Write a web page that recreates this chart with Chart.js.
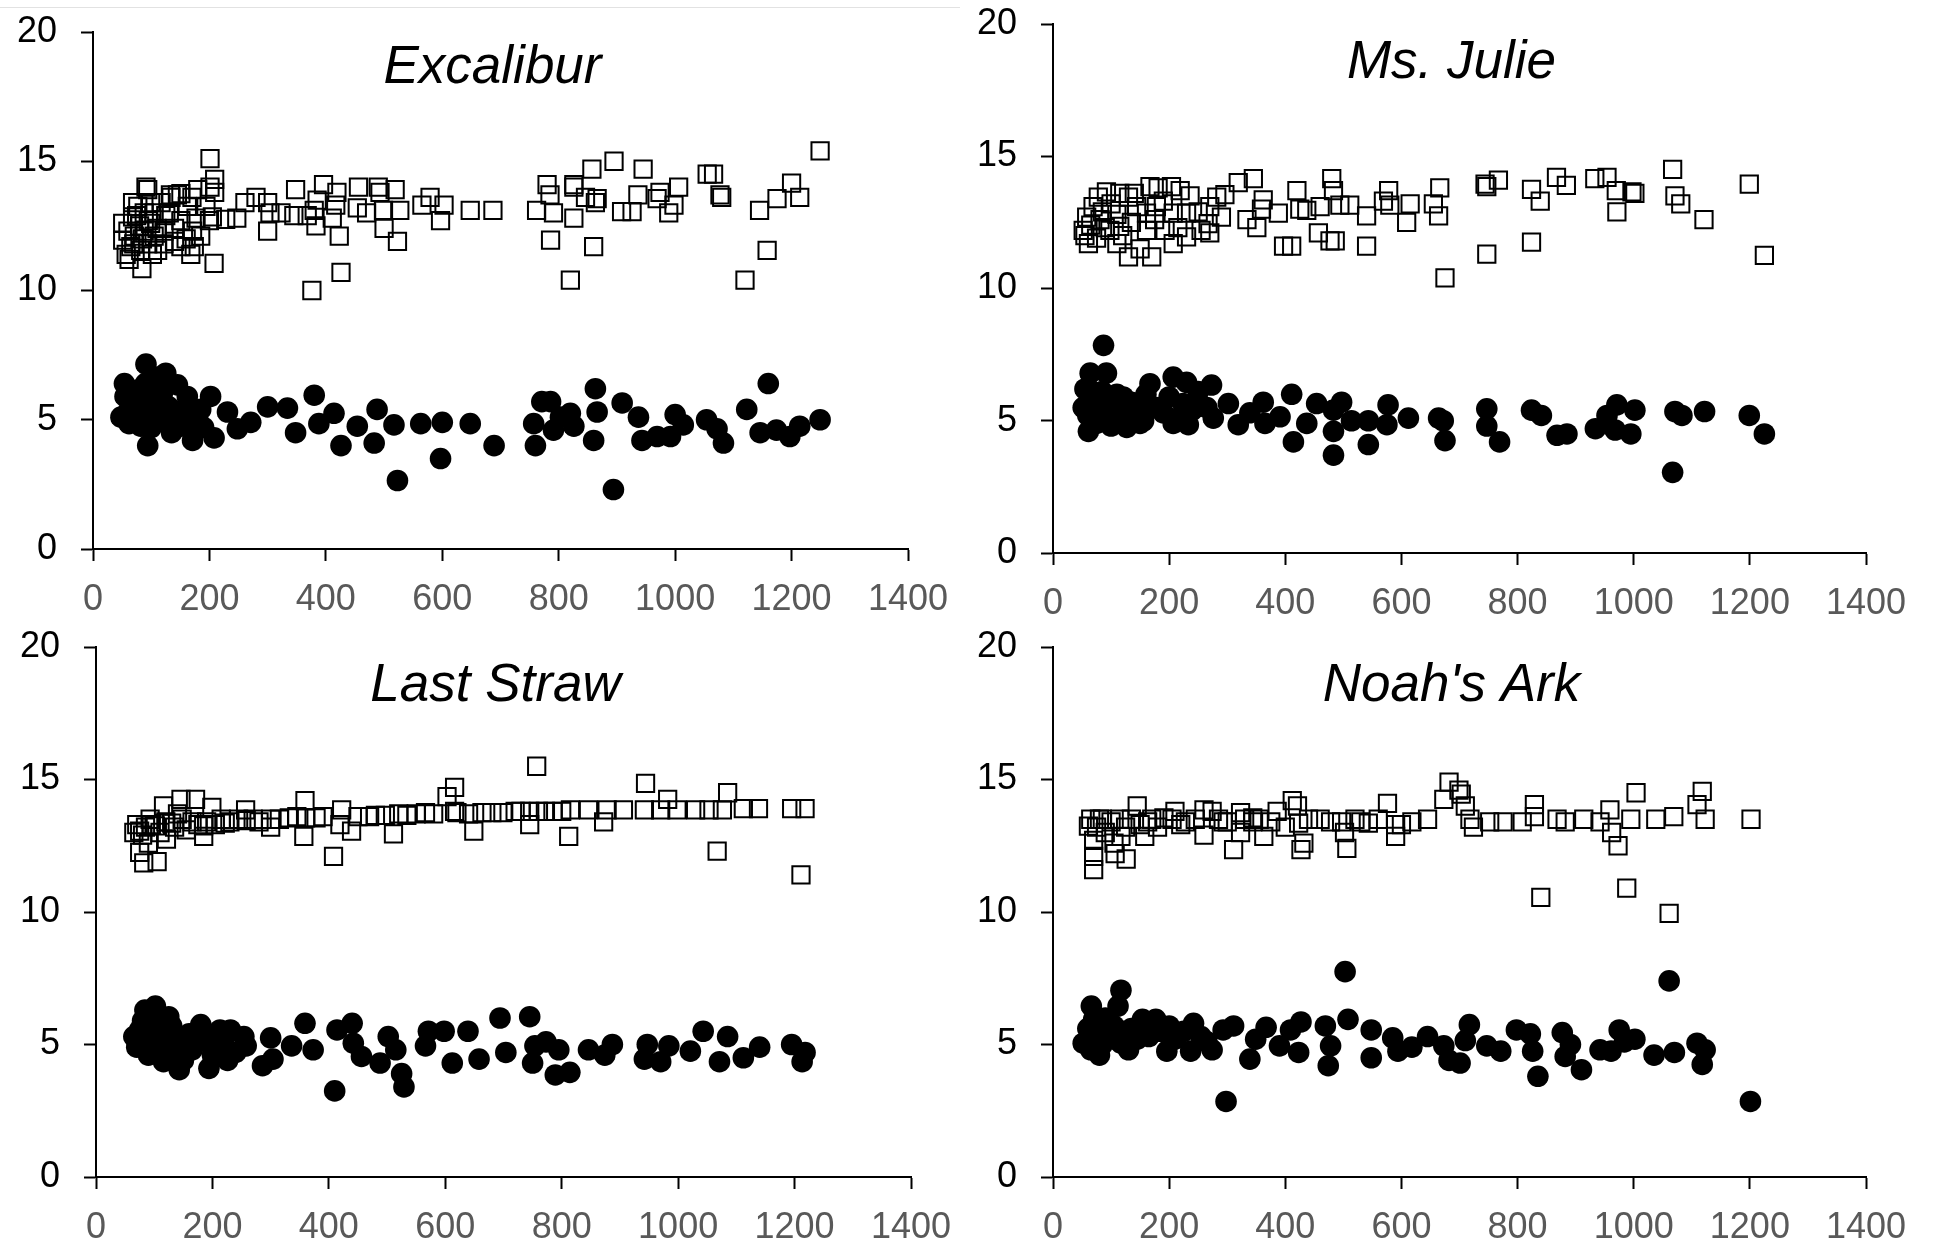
<!DOCTYPE html>
<html>
<head>
<meta charset="utf-8">
<script src="https://cdn.jsdelivr.net/npm/chart.js@4.4.1/dist/chart.umd.min.js"></script>
<style>
  body { margin: 0; background: #fff; width: 1933px; height: 1247px; overflow: hidden; position: relative; }
  canvas { position: absolute; }
  .topline { position: absolute; left: 0; top: 7px; width: 960px; height: 1px; background: #e2e2e2; }
</style>
</head>
<body>
<div class="topline"></div>
<canvas id="c1" width="968" height="637" style="left:0px;top:-18px"></canvas>
<canvas id="c2" width="966" height="649" style="left:960px;top:-26px"></canvas>
<canvas id="c3" width="968" height="650" style="left:3px;top:597px"></canvas>
<canvas id="c4" width="966" height="650" style="left:960px;top:597px"></canvas>
<script>
// panel titles and axis ticks
const titles = ["Excalibur", "Ms. Julie", "Last Straw", "Noah's Ark"];
const xTicks = [0, 200, 400, 600, 800, 1000, 1200, 1400];
const yTicks = [0, 5, 10, 15, 20];

// Excalibur
const excaliburSquares = [
  [201,15.1],[209,14.3],[91,14.0],[201,14.0],[94,13.9],[133,13.7],[145,13.7],[170,13.6],[68,13.4],[209,13.8],
  [348,13.9],[396,14.1],[419,13.8],[456,14.0],[490,14.0],[519,13.9],[493,13.8],[280,13.6],[261,13.4],[300,13.4],
  [385,13.5],[417,13.3],[579,13.6],[603,13.3],[565,13.3],[648,13.1],[687,13.1],[499,13.1],[527,13.1],[454,13.2],
  [470,13.0],[304,13.0],[323,13.0],[345,12.9],[368,12.9],[380,13.1],[247,12.8],[228,12.75],[205,12.85],[300,12.3],
  [383,12.5],[411,12.8],[423,12.1],[500,12.4],[523,11.9],[597,12.7],[208,11.05],[426,10.7],[376,10.0],[84,10.85],
  [786,11.95],[762,13.1],[780,14.1],[785,13.7],[791,13.0],[820,10.4],[826,14.1],
  [57,11.4],[62,11.2],[65,11.7],[71,12.1],[60,12.3],[68,12.85],[77,13.25],[88,13.0],[99,12.6],[105,12.1],
  [94,11.8],[82,11.55],[111,11.55],[122,12.3],[131,13.0],[140,11.9],[151,12.7],[162,13.25],[171,12.3],[174,11.7],
  [168,11.4],[151,11.7],[122,11.8],[134,13.6],[117,13.4],[99,13.4],[80,12.5],[51,11.95],[51,12.6],[151,13.75],
  [180,13.9],[194,13.25],[200,12.7],[177,12.8],[88,12.3],[102,11.4],
  [70,11.8],[75,12.9],[85,12.0],[95,12.7],[105,13.0],[110,12.4],[125,12.9],[140,12.4],[160,12.0],[185,12.1],
  [826,14.0],[826,12.8],[857,14.7],[895,15.0],[860,11.7],[846,13.6],[863,13.4],[866,13.55],[908,13.05],[926,13.05],
  [936,13.7],[945,14.7],[969,13.55],[989,13.0],[998,13.3],[1006,14.0],[974,13.8],[1055,14.5],[1066,14.5],[1080,13.6],
  [1077,13.7],[1145,13.1],[1158,11.55],[1120,10.4],[1175,13.55],[1200,14.15],[1214,13.6],[1249,15.4]
];
const excaliburCircles = [
  [54,6.4],[91,7.15],[125,6.8],[145,6.35],[111,6.15],[162,5.9],[202,5.9],[65,5.5],[94,5.1],[62,4.85],
  [94,4.0],[128,4.85],[171,4.2],[208,4.3],[231,5.3],[180,5.0],[248,4.65],[271,4.9],[300,5.5],[334,5.45],
  [348,4.5],[380,5.95],[388,4.85],[414,5.25],[426,4.0],[454,4.75],[488,5.4],[483,4.1],[517,4.8],[523,2.65],
  [563,4.85],[600,4.9],[597,3.5],[648,4.85],[689,4.0],[757,4.85],[771,5.7],[786,5.7],[760,4.0],[791,4.6],
  [820,5.25],[826,4.75],[48,5.1],[82,4.75],[105,5.5],[122,5.65],[140,5.25],[151,4.75],[77,6.15],[111,6.65],
  [55,5.9],[60,5.3],[70,6.0],[75,5.4],[85,5.7],[90,6.4],[100,5.9],[100,4.7],[115,5.2],[120,6.1],
  [130,5.5],[135,4.5],[150,5.2],[160,5.5],[165,4.8],[185,5.4],[190,4.7],
  [803,5.1],[863,6.2],[866,5.3],[860,4.2],[894,2.3],[909,5.65],[937,5.1],[943,4.2],[969,4.35],[992,4.35],
  [1000,5.2],[1014,4.8],[1054,5.0],[1072,4.65],[1083,4.1],[1123,5.4],[1146,4.5],[1160,6.4],[1174,4.6],[1197,4.35],
  [1214,4.75],[1249,5.0]
];

// Ms. Julie
const julieSquares = [
  [58,12.7],[52,12.2],[61,11.7],[78,13.45],[92,13.65],[115,13.6],[130,13.45],[69,13.1],[81,12.6],[98,12.2],
  [110,11.7],[130,11.2],[115,12.35],[167,13.85],[181,13.8],[204,13.85],[219,13.7],[236,13.5],[170,11.2],[161,12.2],
  [161,12.85],[193,12.2],[207,12.85],[207,11.7],[230,11.95],[230,12.85],[144,13.1],[178,13.1],[270,13.1],[282,13.45],
  [296,13.55],[270,12.1],[267,12.45],[290,12.7],[319,14.0],[345,14.15],[362,13.35],[359,13.0],[334,12.6],[351,12.3],
  [388,12.85],[397,11.6],[411,11.6],[420,13.7],[425,13.0],[437,12.95],[457,12.1],[477,11.8],[486,11.8],[480,14.15],
  [483,13.7],[460,13.1],[494,13.15],[511,13.15],[540,12.75],[540,11.6],[569,13.3],[578,13.7],[580,13.15],[609,12.5],
  [615,13.2],[655,13.2],[666,13.8],[664,12.75],[675,10.4],[744,13.95],[747,11.3],
  [55,12.0],[65,12.4],[75,11.9],[85,12.9],[90,12.3],[100,13.2],[110,12.8],[120,12.0],[135,12.5],[140,13.6],
  [150,11.5],[175,12.6],[190,13.3],[215,12.3],[250,12.9],[255,12.2],
  [747,13.85],[767,14.1],[824,13.75],[839,13.3],[824,11.75],[867,14.2],[884,13.9],[933,14.15],[954,14.2],[970,13.7],
  [971,12.9],[997,13.65],[1002,13.6],[1067,14.5],[1071,13.5],[1081,13.2],[1121,12.6],[1199,13.95],[1225,11.25]
];
const julieCircles = [
  [87,7.85],[64,6.8],[92,6.8],[61,4.6],[52,5.5],[64,6.15],[81,5.8],[104,5.5],[127,4.75],[98,4.9],
  [121,5.9],[144,5.5],[167,6.4],[156,5.0],[178,5.5],[207,6.65],[230,6.45],[207,4.9],[233,4.85],[224,5.65],
  [273,6.35],[265,5.5],[276,5.1],[302,5.65],[319,4.85],[339,5.3],[362,5.7],[365,4.9],[391,5.15],[411,6.0],
  [414,4.2],[437,4.9],[454,5.65],[483,5.4],[497,5.7],[483,4.6],[483,3.7],[514,5.0],[543,5.0],[543,4.1],
  [577,5.6],[575,4.85],[612,5.1],[664,5.1],[675,4.25],[747,5.45],[747,4.8],
  [55,6.2],[60,5.2],[70,5.6],[75,4.9],[85,6.1],[95,5.3],[100,4.8],[110,6.0],[120,5.1],[135,5.7],
  [150,4.9],[160,6.0],[190,5.3],[200,5.9],[215,5.1],[240,5.4],[250,6.1],
  [672,5.0],[769,4.2],[824,5.4],[841,5.2],[868,4.45],[885,4.5],[971,5.6],[954,5.2],[934,4.7],[968,4.65],
  [1002,5.4],[995,4.5],[1071,5.35],[1083,5.2],[1067,3.05],[1122,5.35],[1199,5.2],[1225,4.5]
];

// Last Straw
const strawSquares = [
  [75,12.25],[82,11.85],[105,11.9],[75,13.05],[93,13.5],[116,14.0],[146,14.25],[171,14.25],[199,13.95],[121,12.75],
  [102,13.25],[130,13.35],[148,13.5],[185,12.85],[185,13.25],[222,13.35],[257,13.85],[258,13.45],[300,13.5],[300,13.2],
  [332,13.55],[359,14.2],[357,12.85],[378,13.55],[408,12.1],[422,13.85],[419,13.3],[439,13.05],[470,13.6],[497,13.65],
  [511,12.95],[534,13.65],[566,13.75],[603,14.35],[616,14.7],[616,13.8],[649,13.05],[663,13.75],[699,13.75],[745,13.8],
  [745,13.3],[757,15.5],[772,13.8],[800,13.8],[812,12.85],[846,13.85],[872,13.4],[878,13.85],[906,13.85],[942,13.85],
  [944,14.85],[982,14.25],[970,13.85],[998,13.85],[1030,13.85],[1053,13.85],[1067,12.3],[1076,13.85],[1085,14.5],[1112,13.9],
  [1138,13.9],[1195,13.9],[1218,13.9],[1211,11.4],
  [65,13.0],[70,13.3],[80,12.9],[85,13.2],[90,12.6],[95,13.3],[110,13.0],[120,13.4],[135,13.2],[140,13.7],
  [155,13.1],[165,13.4],[175,13.3],[190,13.4],[205,13.3],[215,13.5],[230,13.4],[245,13.5],[270,13.5],[280,13.4],
  [315,13.5],[345,13.6],[360,13.55],[390,13.6],[450,13.6],[480,13.65],[520,13.7],[550,13.7],[580,13.7],[620,13.75],
  [640,13.7],[680,13.75],[720,13.8],[730,13.8],[760,13.8],[785,13.8],[815,13.85]
];
const strawCircles = [
  [84,6.3],[102,6.45],[125,6.05],[75,5.55],[84,5.05],[111,5.45],[116,4.35],[143,4.05],[148,4.95],[180,5.75],
  [194,4.1],[213,5.55],[226,4.4],[231,5.55],[254,5.3],[258,4.95],[300,5.25],[286,4.2],[304,4.45],[336,4.95],
  [359,5.8],[373,4.8],[410,3.25],[414,5.55],[440,5.8],[442,5.05],[456,4.55],[488,4.3],[502,5.3],[515,4.8],
  [525,3.9],[529,3.4],[566,4.95],[571,5.5],[598,5.5],[612,4.3],[639,5.5],[658,4.45],[694,6.0],[704,4.7],
  [745,6.05],[750,4.3],[754,4.95],[773,5.1],[795,4.8],[789,3.85],[814,3.95],[846,4.8],[874,4.6],[887,5.0],
  [942,4.45],[947,5.0],[970,4.35],[984,4.95],[1021,4.75],[1043,5.5],[1071,4.35],[1085,5.3],[1112,4.5],[1140,4.9],
  [1195,5.0],[1218,4.7],[1213,4.35],
  [65,5.3],[70,4.9],[80,5.9],[90,4.6],[95,5.8],[100,5.2],[105,4.7],[120,5.0],[125,4.5],[130,5.7],
  [135,5.2],[150,4.4],[160,5.4],[165,4.8],[190,5.1],[200,4.6],[205,5.4],[220,5.0],[240,4.7]
];

// Noah's Ark
const noahSquares = [
  [61,13.24],[70,12.7],[70,12.1],[70,11.6],[80,13.5],[107,12.2],[117,12.85],[126,12.0],[145,14.0],[158,12.85],
  [163,13.4],[191,13.55],[210,13.8],[228,13.4],[260,13.85],[260,12.9],[274,13.8],[293,13.4],[311,12.35],[323,13.75],
  [323,13.0],[344,13.55],[344,13.4],[363,12.85],[386,13.8],[400,13.2],[412,14.2],[421,14.0],[423,13.35],[427,12.35],
  [432,12.6],[478,13.4],[497,13.4],[506,12.4],[502,13.0],[543,13.35],[576,14.1],[590,12.85],[590,13.3],[618,13.4],
  [645,13.5],[673,14.25],[682,14.9],[699,14.6],[703,14.45],[710,14.0],[718,13.5],[724,13.2],[752,13.4],[775,13.4],
  [808,13.4],[829,14.05],[829,13.6],[840,10.55],[868,13.5],[882,13.4],[914,13.5],[942,13.4],[959,13.85],[962,13.0],
  [973,12.5],[988,10.9],[995,13.5],[1004,14.5],[1038,13.5],[1061,9.95],[1069,13.6],[1109,14.05],[1118,14.55],[1123,13.5],
  [1202,13.5],
  [65,13.5],[75,13.2],[85,13.5],[90,13.0],[100,13.4],[105,12.6],[115,13.5],[125,13.2],[135,13.5],[150,13.3],
  [170,13.5],[180,13.2],[205,13.5],[220,13.3],[245,13.5],[285,13.5],[300,13.4],[330,13.5],[355,13.5],[375,13.4],
  [440,13.5],[460,13.5],[520,13.5],[530,13.4],[560,13.5],[600,13.3]
];
const noahCircles = [
  [66,6.45],[52,5.05],[70,5.95],[80,4.6],[112,6.45],[117,7.05],[117,5.05],[145,5.2],[154,5.95],[177,5.95],
  [196,4.75],[200,5.7],[237,4.75],[242,5.8],[274,4.8],[293,5.55],[298,2.85],[311,5.7],[339,4.45],[349,5.2],
  [367,5.65],[390,4.95],[409,5.55],[427,5.85],[423,4.7],[469,5.7],[474,4.2],[478,4.95],[503,7.75],[508,5.95],
  [548,4.5],[548,5.55],[585,5.25],[594,4.75],[618,4.9],[645,5.3],[673,4.95],[682,4.4],[701,4.3],[710,5.15],
  [717,5.75],[747,4.95],[771,4.75],[798,5.55],[822,5.4],[826,4.75],[835,3.8],[877,5.45],[882,4.55],[891,5.0],
  [910,4.05],[942,4.8],[961,4.75],[975,5.55],[984,5.1],[1002,5.2],[1035,4.6],[1061,7.4],[1070,4.7],[1109,5.05],
  [1123,4.8],[1118,4.25],[1201,2.85],
  [60,5.6],[65,4.8],[75,5.5],[85,5.0],[90,6.0],[95,5.3],[105,5.7],[120,5.5],[130,4.8],[135,5.6],
  [165,5.3],[185,5.5],[210,5.2],[225,5.5],[255,5.3],[265,5.1]
];

const tickFont = { family: '"Liberation Sans", Arial, sans-serif', size: 36 };

// title drawn inside the plot area, like the original
const panelTitle = {
  id: "panelTitle",
  afterDraw(chart, args, opts) {
    const { ctx, chartArea } = chart;
    ctx.save();
    ctx.font = 'italic 53px "Liberation Sans", Arial, sans-serif';
    ctx.fillStyle = "#000";
    ctx.textAlign = "center";
    ctx.textBaseline = "alphabetic";
    ctx.fillText(opts.text, (chartArea.left + chartArea.right) / 2 - 8, chartArea.top + opts.dy);
    ctx.restore();
  }
};

function toPoints(arr) {
  return arr.map(p => ({ x: p[0], y: p[1] }));
}

function makeChart(id, squares, circles, title, dy) {
  const ctx = document.getElementById(id).getContext("2d");
  new Chart(ctx, {
    type: "scatter",
    data: {
      datasets: [{
        data: toPoints(squares),
        pointStyle: "rect",
        pointRadius: 12.2,
        borderWidth: 2,
        borderColor: "#000",
        backgroundColor: "rgba(0,0,0,0)"
      }, {
        data: toPoints(circles),
        pointStyle: "circle",
        pointRadius: 10.8,
        borderWidth: 0,
        borderColor: "#000",
        backgroundColor: "#000"
      }]
    },
    options: {
      responsive: false,
      animation: false,
      devicePixelRatio: 1,
      events: [],
      layout: { padding: { top: 50, right: 60, left: 0, bottom: 0 } },
      plugins: {
        legend: { display: false },
        tooltip: { enabled: false },
        panelTitle: { text: title, dy: dy }
      },
      scales: {
        x: {
          type: "linear",
          min: 0,
          max: 1400,
          afterBuildTicks: s => { s.ticks = xTicks.map(v => ({ value: v })); },
          afterFit: s => { s.height = 70; },
          ticks: { color: "#595959", font: tickFont, padding: 17, maxRotation: 0, autoSkip: false, callback: v => String(v) },
          grid: { drawOnChartArea: false, tickLength: 12, tickColor: "#000", tickWidth: 2 },
          border: { color: "#000", width: 2 }
        },
        y: {
          type: "linear",
          min: 0,
          max: 20,
          afterBuildTicks: s => { s.ticks = yTicks.map(v => ({ value: v })); },
          afterFit: s => { s.width = 93; },
          ticks: { color: "#000", font: tickFont, padding: 24, callback: v => String(v) },
          grid: { drawOnChartArea: false, tickLength: 12, tickColor: "#000", tickWidth: 2 },
          border: { color: "#000", width: 2 }
        }
      }
    },
    plugins: [panelTitle]
  });
}

makeChart("c1", excaliburSquares, excaliburCircles, titles[0], 51);
makeChart("c2", julieSquares, julieCircles, titles[1], 54);
makeChart("c3", strawSquares, strawCircles, titles[2], 54);
makeChart("c4", noahSquares, noahCircles, titles[3], 54);
</script>
</body>
</html>
